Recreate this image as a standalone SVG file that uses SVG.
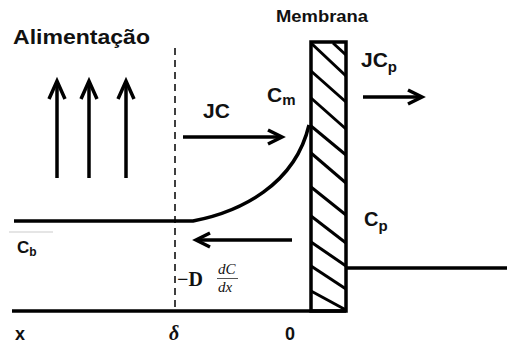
<svg xmlns="http://www.w3.org/2000/svg" width="507" height="347" viewBox="0 0 507 347">
<style>
.t{font-family:"Liberation Sans",Arial,sans-serif;font-weight:bold;fill:#111}
.s{font-family:"Liberation Serif","Times New Roman",serif;fill:#111}
.ln{stroke:#000;stroke-width:3.5;fill:none}
.hd{stroke:#000;stroke-width:3.5;fill:none;stroke-linejoin:miter;stroke-linecap:butt}
.h{stroke:#000;stroke-width:3;fill:none}
</style>
<rect width="507" height="347" fill="#fff"/>
<g id="labels">
<text class="t" x="13" y="44" font-size="21" textLength="137" lengthAdjust="spacingAndGlyphs">Alimentação</text>
<text class="t" x="276" y="22" font-size="16" fill="#222" textLength="92" lengthAdjust="spacingAndGlyphs">Membrana</text>
<text class="t" x="203" y="118" font-size="21">JC</text>
<text class="t" x="267" y="102" font-size="21">C<tspan font-size="15" dy="3">m</tspan></text>
<text class="t" x="361" y="67" font-size="21">JC<tspan font-size="15" dy="5">p</tspan></text>
<text class="t" x="364" y="226" font-size="20">C<tspan font-size="15" dy="5">p</tspan></text>
<text class="t" x="17" y="253" font-size="17">C<tspan font-size="12" dy="3">b</tspan></text>
<text class="t" x="15" y="340" font-size="18">x</text>
<text class="s" x="169" y="340" font-size="20" font-weight="bold" font-style="italic">δ</text>
<text class="t" x="285" y="340" font-size="18">0</text>
<text class="s" x="177" y="286" font-size="20" font-weight="bold">−D</text>
<text class="s" x="218" y="274" font-size="15" font-style="italic">dC</text>
<line x1="217" y1="278.5" x2="238" y2="278.5" stroke="#555" stroke-width="1"/>
<text class="s" x="218" y="292" font-size="15" font-style="italic">dx</text>
</g>
<g id="membrana">
<rect x="311" y="42" width="35" height="269" fill="#fff" stroke="#000" stroke-width="3.5"/>
<g class="h">
<line x1="311" y1="43" x2="346" y2="76"/>
<line x1="311" y1="71" x2="346" y2="102"/>
<line x1="311" y1="98" x2="346" y2="129"/>
<line x1="311" y1="126" x2="346" y2="155"/>
<line x1="311" y1="153" x2="346" y2="183"/>
<line x1="311" y1="187" x2="346" y2="215"/>
<line x1="311" y1="216" x2="346" y2="243"/>
<line x1="311" y1="242" x2="346" y2="266"/>
<line x1="311" y1="266" x2="346" y2="289"/>
<line x1="311" y1="291" x2="346" y2="310"/>
<line x1="333" y1="43" x2="346" y2="55"/>
</g>
</g>
<g id="connectors">
<line x1="12" y1="311" x2="346" y2="311" class="ln" stroke-width="4"/>
<line x1="175" y1="48" x2="175" y2="311" stroke="#000" stroke-width="1.5" stroke-dasharray="7,5"/>
<path d="M14 221 L193 221 C240 212,295 185,309 125" class="ln"/>
<line x1="346" y1="268" x2="507" y2="268" class="ln"/>
<line x1="9" y1="232" x2="53" y2="232" stroke="#ddd" stroke-width="1.5"/>
<line x1="57" y1="178" x2="57" y2="81" class="ln"/>
<path d="M49 99 L57 81 L65 99" class="hd"/>
<line x1="89" y1="178" x2="89" y2="81" class="ln"/>
<path d="M81 99 L89 81 L97 99" class="hd"/>
<line x1="126" y1="178" x2="126" y2="81" class="ln"/>
<path d="M118 99 L126 81 L134 99" class="hd"/>
<line x1="183" y1="137" x2="281" y2="137" class="ln"/>
<path d="M268 130 L282 137 L268 144" class="hd"/>
<line x1="363" y1="97" x2="421" y2="97" class="ln"/>
<path d="M408 90 L422 97 L408 104" class="hd"/>
<line x1="292" y1="240" x2="197" y2="240" class="ln"/>
<path d="M210 233 L196 240 L210 247" class="hd"/>
</g>
</svg>
